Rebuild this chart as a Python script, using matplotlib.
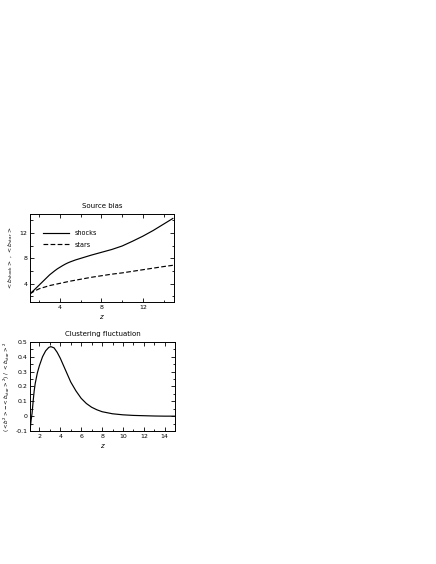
import numpy as np
import matplotlib
matplotlib.use("Agg")
import matplotlib.pyplot as plt
from matplotlib.ticker import MultipleLocator

# ── Data ─────────────────────────────────────────────────────────────────────
z_shock = [1.1, 1.5, 2.0, 2.5, 3.0, 3.5, 3.75, 4.0, 4.25, 4.5, 4.75, 5.0, 5.5,
           6.0, 7.0, 8.0, 9.0, 10.0, 11.0, 12.0, 13.0, 14.0, 14.9]
b_shock = [2.4, 3.0, 3.8, 4.6, 5.4, 6.05, 6.35, 6.6, 6.85, 7.08, 7.28, 7.45,
           7.75, 8.0, 8.5, 8.95, 9.4, 9.95, 10.7, 11.5, 12.4, 13.4, 14.3]

z_star = [1.1, 1.5, 2.0, 3.0, 4.0, 5.0, 6.0, 7.0, 8.0, 9.0, 10.0, 11.0, 12.0,
          13.0, 14.0, 14.9]
b_star = [2.4, 2.8, 3.2, 3.7, 4.05, 4.4, 4.7, 5.0, 5.25, 5.5, 5.7, 5.95, 6.2,
          6.45, 6.7, 6.9]

z_fluct = [1.1, 1.2, 1.3, 1.4, 1.5, 1.6, 1.8, 2.0, 2.3, 2.6, 2.9, 3.1, 3.4,
           3.7, 4.0, 4.5, 5.0, 5.5, 6.0, 6.5, 7.0, 7.5, 8.0, 9.0, 10.0, 11.0,
           12.0, 13.0, 14.0, 15.0]
fluct = [-0.1, -0.03, 0.02, 0.1, 0.17, 0.22, 0.29, 0.34, 0.40, 0.44, 0.463,
         0.468, 0.46, 0.43, 0.39, 0.31, 0.23, 0.17, 0.12, 0.085, 0.06, 0.043,
         0.03, 0.016, 0.009, 0.005, 0.003, 0.001, 0.0, 0.0]

plt.rcParams["font.family"] = "DejaVu Sans"
plt.rcParams["font.size"] = 5

fig = plt.figure(figsize=(4.36, 5.64), dpi=100)

ax_top = fig.add_axes([0.0688, 0.4645, 0.330, 0.156])
ax_bot = fig.add_axes([0.0688, 0.2358, 0.333, 0.158])


def _style(ax):
    ax.tick_params(which="both", direction="in", top=True, right=True,
                   labelsize=4.5, width=0.6, pad=2)
    ax.tick_params(which="major", length=3)
    ax.tick_params(which="minor", length=1.8)
    for sp in ax.spines.values():
        sp.set_linewidth(0.7)


# ── Source bias ──────────────────────────────────────────────────────────────
ax_top.plot(z_shock, b_shock, color="black", lw=0.85, label="shocks")
ax_top.plot(z_star, b_star, color="black", lw=0.85, ls=(0, (4, 2)), label="stars")
ax_top.set_xlim(1.1, 15)
ax_top.set_ylim(1.1, 15)
ax_top.xaxis.set_major_locator(MultipleLocator(4))
ax_top.xaxis.set_minor_locator(MultipleLocator(2))
ax_top.yaxis.set_major_locator(MultipleLocator(4))
ax_top.yaxis.set_minor_locator(MultipleLocator(2))
ax_top.set_title("Source bias", fontsize=5, pad=4)
ax_top.set_xlabel(r"$z$", fontsize=5, labelpad=2)
ax_top.set_ylabel(r"$<b_{\rm shock}>$ , $<b_{\rm star}>$", fontsize=4.3, labelpad=3)
ax_top.legend(loc="upper left", frameon=False, fontsize=4.7, handlelength=4,
              bbox_to_anchor=(0.05, 0.88), labelspacing=0.8)
_style(ax_top)

# ── Clustering fluctuation ───────────────────────────────────────────────────
ax_bot.plot(z_fluct, fluct, color="black", lw=0.85)
ax_bot.set_xlim(1.1, 15)
ax_bot.set_ylim(-0.1, 0.5)
ax_bot.xaxis.set_major_locator(MultipleLocator(2))
ax_bot.xaxis.set_minor_locator(MultipleLocator(1))
ax_bot.yaxis.set_major_locator(MultipleLocator(0.1))
ax_bot.yaxis.set_minor_locator(MultipleLocator(0.05))
ax_bot.yaxis.set_major_formatter(plt.FuncFormatter(lambda v, p: f"{v:g}"))
ax_bot.set_title("Clustering fluctuation", fontsize=5, pad=4)
ax_bot.set_xlabel(r"$z$", fontsize=5, labelpad=2)
ax_bot.set_ylabel(r"$(<b^2> - <b_{\rm star}>^2)\ /\ <b_{\rm star}>^2$",
                  fontsize=4.0, labelpad=2)
_style(ax_bot)

fig.savefig("out.png", dpi=100)
